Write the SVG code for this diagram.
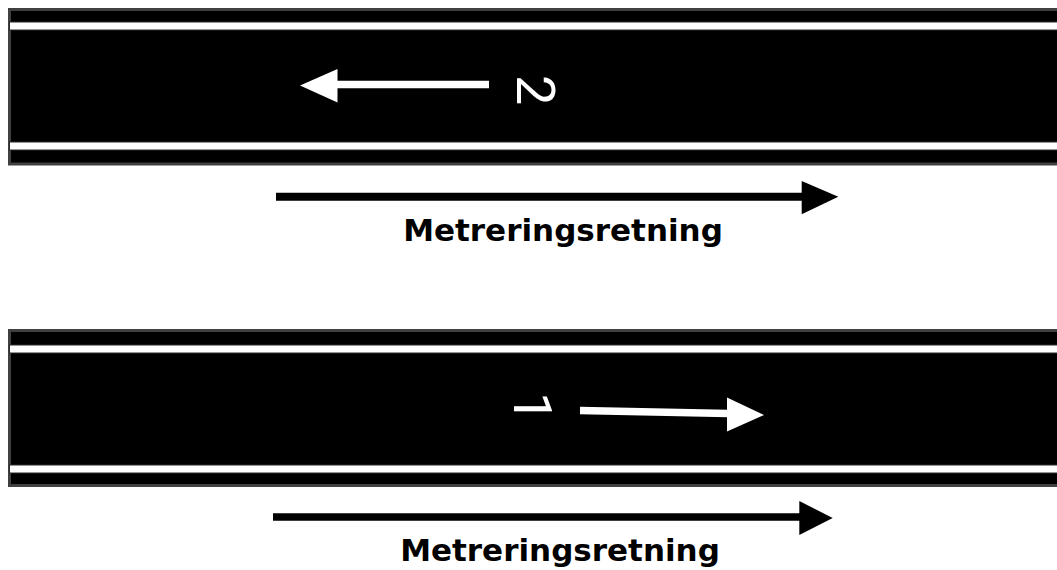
<svg xmlns="http://www.w3.org/2000/svg" width="1057" height="570" viewBox="0 0 1057 570">
<style>
.road{fill:#000;stroke:#404040;stroke-width:3}
.stripe{fill:#fff;stroke:#2a2a2a;stroke-width:1}
.lbl{font-family:"DejaVu Sans",Verdana,sans-serif;font-weight:bold;font-size:31px;fill:#000;text-anchor:middle}
.num{font-family:Roboto,"Open Sans",sans-serif;font-size:54px;fill:#fff}
</style>
<rect width="1057" height="570" fill="#fff"/>
<g id="road-top">
<rect class="road" x="9.5" y="9.5" width="1060" height="154.5"/>
<rect class="stripe" x="9.5" y="22" width="1060" height="8"/>
<rect class="stripe" x="9.5" y="142" width="1060" height="8"/>
</g>
<g id="road-bottom">
<rect class="road" x="9.5" y="330.5" width="1060" height="155"/>
<rect class="stripe" x="9.5" y="345" width="1060" height="8"/>
<rect class="stripe" x="9.5" y="465" width="1060" height="8"/>
</g>
<g id="lane-2">
<line x1="336" y1="84.5" x2="489" y2="84.5" stroke="#fff" stroke-width="7.5"/>
<polygon points="300,85.5 337.5,69 337.5,102.5" fill="#fff"/>
<text class="num" transform="translate(516.5,75) rotate(90)">2</text>
</g>
<g id="lane-1">
<line x1="580" y1="410.5" x2="728" y2="413.5" stroke="#fff" stroke-width="7.5"/>
<polygon points="727,397.5 764,415 727,431.5" fill="#fff"/>
<text class="num" transform="translate(514,392) rotate(90)">1</text>
</g>
<g id="connectors">
<line x1="276" y1="196.7" x2="802" y2="196.7" stroke="#000" stroke-width="8"/>
<polygon points="801.7,181 838.3,196.7 801.7,214.3" fill="#000"/>
<line x1="273" y1="517" x2="800" y2="517" stroke="#000" stroke-width="7.5"/>
<polygon points="799.3,501 832.7,518 799.3,535" fill="#000"/>
</g>
<g id="labels">
<text class="lbl" x="563" y="241">Metreringsretning</text>
<text class="lbl" x="560" y="561">Metreringsretning</text>
</g>
</svg>
